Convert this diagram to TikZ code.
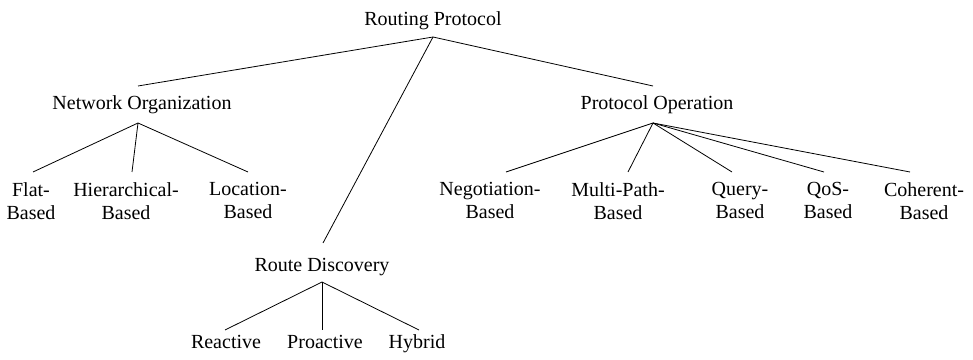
\documentclass[tikz,border=0pt]{standalone}
\usepackage{fontspec}
\setmainfont{Liberation Serif}
\begin{document}
\begin{tikzpicture}[x=1pt,y=1pt,
  lbl/.style={inner sep=0pt, font=\fontsize{20}{22.7}\selectfont, anchor=base},
  leaf/.style={inner sep=0pt, font=\fontsize{20}{22.7}\selectfont, align=center, anchor=north},
  edge/.style={draw=black, line width=0.8pt}]
\useasboundingbox[fill=white] (0,0) rectangle (973,359);
% parents
\node[lbl] (rp) at (433,333) {Routing Protocol};
\node[lbl] (no) at (142,249) {Network Organization};
\node[lbl] (po) at (657,249) {Protocol Operation};
\node[lbl] (rd) at (322,87.3) {Route Discovery};
% leaves
\node[leaf] (flat)  at (31,176.5)  {Flat-\\Based};
\node[leaf] (hier)  at (126,176.5) {Hierarchical-\\Based};
\node[leaf] (loc)   at (248,176.5) {Location-\\Based};
\node[leaf] (neg)   at (490,176.5) {Negotiation-\\Based};
\node[leaf] (multi) at (618,176.5) {Multi-Path-\\Based};
\node[leaf] (query) at (740,176.5) {Query-\\Based};
\node[leaf] (qos)   at (828,176.5) {QoS-\\Based};
\node[leaf] (coh)   at (924,176.5) {Coherent-\\Based};
\node[lbl] (reac) at (226,11) {Reactive};
\node[lbl] (proa) at (325,11) {Proactive};
\node[lbl] (hyb)  at (417,11) {Hybrid};
% edges from root
\draw[edge] ([yshift=-11pt]rp.base) -- ([shift={(-4pt,24pt)}]no.base);
\draw[edge] ([yshift=-11pt]rp.base) -- ([shift={(-4pt,24pt)}]po.base);
\draw[edge] ([yshift=-11pt]rp.base) -- ([shift={(1pt,28.7pt)}]rd.base);
% network organization
\draw[edge] ([shift={(-4pt,-13pt)}]no.base) -- ([shift={(2pt,10.5pt)}]flat.north);
\draw[edge] ([shift={(-4pt,-13pt)}]no.base) -- ([shift={(6pt,10.5pt)}]hier.north);
\draw[edge] ([shift={(-4pt,-13pt)}]no.base) -- ([shift={(0pt,10.5pt)}]loc.north);
% protocol operation
\draw[edge] ([shift={(-4pt,-13pt)}]po.base) -- ([shift={(16pt,10.5pt)}]neg.north);
\draw[edge] ([shift={(-4pt,-13pt)}]po.base) -- ([shift={(10pt,10.5pt)}]multi.north);
\draw[edge] ([shift={(-4pt,-13pt)}]po.base) -- ([shift={(-8pt,10.5pt)}]query.north);
\draw[edge] ([shift={(-4pt,-13pt)}]po.base) -- ([shift={(-4pt,10.5pt)}]qos.north);
\draw[edge] ([shift={(-4pt,-13pt)}]po.base) -- ([shift={(-14pt,10.5pt)}]coh.north);
% route discovery
\draw[edge] ([yshift=-10.3pt]rd.base) -- ([shift={(-1pt,18pt)}]reac.base);
\draw[edge] ([yshift=-10.3pt]rd.base) -- ([shift={(-3pt,18pt)}]proa.base);
\draw[edge] ([yshift=-10.3pt]rd.base) -- ([shift={(2pt,18pt)}]hyb.base);
\end{tikzpicture}
\end{document}
